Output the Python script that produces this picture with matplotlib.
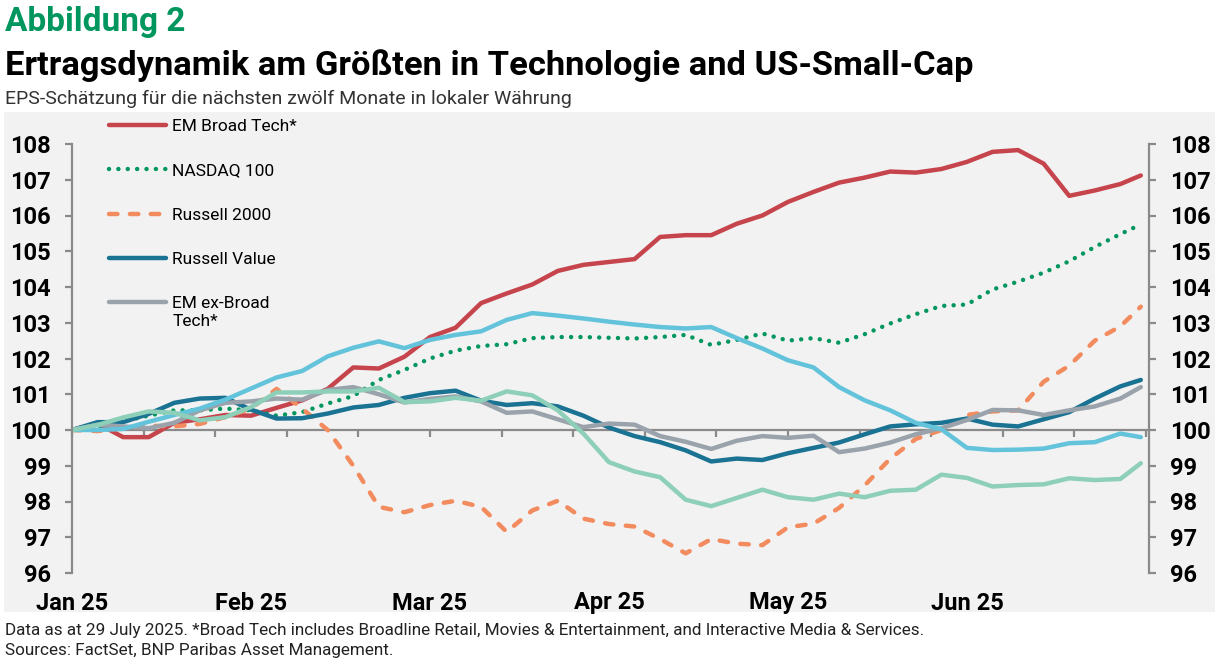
import matplotlib
matplotlib.use("Agg")
import matplotlib.pyplot as plt
import matplotlib.transforms as mtransforms
from matplotlib.patches import Rectangle

plt.rcParams["font.family"] = ["Roboto", "DejaVu Sans"]

# days since 1 Jan 2025 (last point 29 Jul 2025)
days = list(range(0, 210, 5)) + [209]

em_broad_tech = [100.0, 100.18, 99.8, 99.8, 100.2, 100.3, 100.42, 100.4, 100.62, 100.83,
                 101.15, 101.75, 101.72, 102.05, 102.6, 102.86, 103.55, 103.82, 104.07, 104.45,
                 104.62, 104.7, 104.78, 105.4, 105.45, 105.45, 105.77, 106.0, 106.38, 106.66,
                 106.92, 107.06, 107.23, 107.2, 107.3, 107.5, 107.78, 107.83, 107.45, 106.55,
                 106.7, 106.88, 107.12]
nasdaq_100 = [100.0, 100.1, 100.25, 100.4, 100.55, 100.55, 100.6, 100.55, 100.4, 100.5,
              100.74, 100.95, 101.4, 101.68, 102.0, 102.22, 102.35, 102.4, 102.57, 102.6,
              102.6, 102.58, 102.56, 102.6, 102.66, 102.38, 102.52, 102.7, 102.5, 102.57,
              102.44, 102.68, 102.98, 103.24, 103.47, 103.51, 103.93, 104.15, 104.4, 104.72,
              105.12, 105.48, 105.75]
russell_2000 = [100.0, 99.97, 100.05, 100.12, 100.1, 100.17, 100.36, 100.6, 101.15, 100.6,
                100.0, 99.0, 97.85, 97.7, 97.9, 98.02, 97.85, 97.15, 97.75, 98.02,
                97.52, 97.37, 97.3, 96.95, 96.55, 96.95, 96.82, 96.78, 97.28, 97.38,
                97.82, 98.45, 99.2, 99.75, 100.0, 100.42, 100.52, 100.55, 101.35, 101.8,
                102.5, 102.9, 103.45]
russell_value = [100.0, 100.22, 100.22, 100.45, 100.76, 100.88, 100.9, 100.57, 100.32, 100.33,
                 100.46, 100.63, 100.7, 100.9, 101.03, 101.1, 100.82, 100.7, 100.75, 100.66,
                 100.4, 100.07, 99.83, 99.66, 99.43, 99.12, 99.2, 99.16, 99.35, 99.5,
                 99.65, 99.88, 100.1, 100.16, 100.2, 100.32, 100.15, 100.1, 100.3, 100.5,
                 100.88, 101.22, 101.4]
em_ex_broad_tech = [100.0, 100.15, 100.1, 100.05, 100.2, 100.55, 100.76, 100.8, 100.88, 100.85,
                    101.12, 101.2, 101.0, 100.77, 100.87, 100.94, 100.8, 100.48, 100.52, 100.3,
                    100.08, 100.18, 100.15, 99.83, 99.67, 99.47, 99.7, 99.83, 99.78, 99.84,
                    99.38, 99.48, 99.65, 99.88, 100.05, 100.28, 100.56, 100.55, 100.42, 100.55,
                    100.66, 100.88, 101.2]
light_blue = [100.0, 100.0, 100.03, 100.23, 100.42, 100.6, 100.85, 101.16, 101.47, 101.65,
              102.06, 102.3, 102.48, 102.29, 102.52, 102.66, 102.76, 103.08, 103.27, 103.2,
              103.12, 103.03, 102.95, 102.88, 102.84, 102.88, 102.57, 102.28, 101.95, 101.75,
              101.2, 100.83, 100.55, 100.2, 100.02, 99.5, 99.44, 99.45, 99.48, 99.63,
              99.66, 99.9, 99.8]
mint = [100.0, 100.14, 100.35, 100.52, 100.48, 100.27, 100.36, 100.64, 101.05, 101.05,
        101.08, 101.08, 101.18, 100.78, 100.8, 100.9, 100.82, 101.08, 100.97, 100.55,
        99.9, 99.1, 98.84, 98.68, 98.05, 97.87, 98.1, 98.33, 98.12, 98.05,
        98.22, 98.12, 98.3, 98.33, 98.75, 98.66, 98.42, 98.46, 98.48, 98.65,
        98.6, 98.63, 99.07]

month_days = [0, 35, 70, 105, 140, 175]
month_labels = ["Jan 25", "Feb 25", "Mar 25", "Apr 25", "May 25", "Jun 25"]
minor_days = list(range(0, 211, 14))
y_ticks = [96, 97, 98, 99, 100, 101, 102, 103, 104, 105, 106, 107, 108]

W, H = 1219, 660
fig = plt.figure(figsize=(W / 100, H / 100), dpi=100)
fig.patch.set_facecolor("white")
fig.patches.append(Rectangle((4 / W, 1 - 612 / H), 1211 / W, 500 / H,
                             transform=fig.transFigure, facecolor="#f2f2f2",
                             edgecolor="none", zorder=-5))

ax = fig.add_axes([72 / W, 1 - 573 / H, (1149 - 72) / W, (573 - 144) / H])
ax.set_facecolor("none")

lw = 3.2
l_red, = ax.plot(days, em_broad_tech, color="#c6444b", lw=lw, solid_capstyle="round")
l_grn, = ax.plot(days, nasdaq_100, color="#00965e", lw=lw, linestyle=(0, (0.01, 2.1)),
                 dash_capstyle="round")
l_org, = ax.plot(days, russell_2000, color="#f28b5e", lw=lw, linestyle=(0, (1.9, 2.8)),
                 dash_capstyle="round")
l_nav, = ax.plot(days, russell_value, color="#1b7393", lw=lw, solid_capstyle="round")
l_gry, = ax.plot(days, em_ex_broad_tech, color="#9aa3ac", lw=lw, solid_capstyle="round")
ax.plot(days, light_blue, color="#62c3db", lw=lw, solid_capstyle="round")
ax.plot(days, mint, color="#8dcfb9", lw=lw, solid_capstyle="round")

ax.set_xlim(0, 210.6)
ax.set_ylim(96, 108)
ax.set_yticks(y_ticks)
ax.set_xticks(minor_days)
ax.set_xticklabels([])

spine_c = "#8a8a8a"
ax.spines["top"].set_visible(False)
ax.spines["bottom"].set_position(("data", 100))
for side in ["left", "right", "bottom"]:
    ax.spines[side].set_color(spine_c)
    ax.spines[side].set_linewidth(1.6)
ax.spines["bottom"].set_zorder(1)

ax.tick_params(axis="y", which="both", left=True, right=True, labelleft=True, labelright=True,
               direction="out", length=5, width=1.6, color=spine_c, pad=10,
               labelsize=17)
ax.tick_params(axis="x", direction="out", length=5, width=1.6, color=spine_c)
for lab in ax.get_yticklabels():
    lab.set_fontweight("bold")

trans = mtransforms.blended_transform_factory(ax.transData, fig.transFigure)
for d, lab in zip(month_days, month_labels):
    ax.text(d, 1 - 603 / H, lab, transform=trans, ha="center", va="center",
            fontsize=17, fontweight="bold", color="black", clip_on=False)

leg = fig.legend([l_red, l_grn, l_org, l_nav, l_gry],
                 ["EM Broad Tech*", "NASDAQ 100", "Russell 2000", "Russell Value",
                  "EM ex-Broad\nTech*"],
                 loc="upper left", bbox_to_anchor=(109 / W, 1 - 119 / H), frameon=False,
                 handlelength=3.3, handletextpad=0.35, labelspacing=1.68, fontsize=12.5,
                 borderpad=0, borderaxespad=0)
# put the two-line entry's key next to its first line
h = leg.legend_handles[4]
h.set_ydata([v + 7.5 for v in h.get_ydata()])

fig.text(5 / W, 1 - 22 / H, "Abbildung 2", color="#00965e", fontsize=24,
         fontweight="bold", va="center", ha="left")
fig.text(5 / W, 1 - 66 / H, "Ertragsdynamik am Größten in Technologie and US-Small-Cap",
         color="black", fontsize=24.8, fontweight="bold", va="center", ha="left")
fig.text(5 / W, 1 - 99 / H, "EPS-Schätzung für die nächsten zwölf Monate in lokaler Währung",
         color="#333333", fontsize=14, va="center", ha="left")
fig.text(5 / W, 1 - 630 / H,
         "Data as at 29 July 2025. *Broad Tech includes Broadline Retail, Movies & Entertainment, "
         "and Interactive Media & Services.",
         color="#222222", fontsize=12.3, va="center", ha="left")
fig.text(5 / W, 1 - 650 / H, "Sources: FactSet, BNP Paribas Asset Management.",
         color="#222222", fontsize=12.3, va="center", ha="left")

fig.savefig("out.png", dpi=100)
